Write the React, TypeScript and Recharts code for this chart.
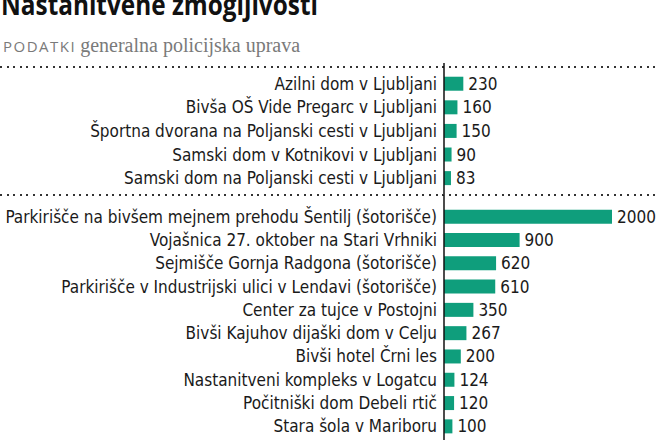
import { BarChart, Bar, XAxis, YAxis, LabelList } from 'recharts';

const ljubljanaNames = [
  'Azilni dom v Ljubljani',
  'Bivša OŠ Vide Pregarc v Ljubljani',
  'Športna dvorana na Poljanski cesti v Ljubljani',
  'Samski dom v Kotnikovi v Ljubljani',
  'Samski dom na Poljanski cesti v Ljubljani',
];
const ljubljanaValues = [230, 160, 150, 90, 83];

const otherNames = [
  'Parkirišče na bivšem mejnem prehodu Šentilj (šotorišče)',
  'Vojašnica 27. oktober na Stari Vrhniki',
  'Sejmišče Gornja Radgona (šotorišče)',
  'Parkirišče v Industrijski ulici v Lendavi (šotorišče)',
  'Center za tujce v Postojni',
  'Bivši Kajuhov dijaški dom v Celju',
  'Bivši hotel Črni les',
  'Nastanitveni kompleks v Logatcu',
  'Počitniški dom Debeli rtič',
  'Stara šola v Mariboru',
];
const otherValues = [2000, 900, 620, 610, 350, 267, 200, 124, 120, 100];

const GREEN = '#0f9e7c';
const FONT = '"DejaVu Sans Condensed", sans-serif';

const toRows = (names: string[], values: number[]) => names.map((name, i) => ({ name, value: values[i] }));

function Dotted({ top }: { top: number }) {
  return (
    <div
      style={{
        position: 'absolute',
        left: 0,
        top,
        width: 660,
        height: 2,
        background: 'repeating-linear-gradient(to right, #333 0 2px, transparent 2px 6.6px)',
      }}
    />
  );
}

function Group({ data, height, padTop, padBottom }: { data: { name: string; value: number }[]; height: number; padTop: number; padBottom: number }) {
  return (
    <BarChart width={660} height={height} data={data} layout="vertical" margin={{ top: 0, right: 48, bottom: 0, left: 0 }} barCategoryGap="20%">
      <XAxis type="number" domain={[0, 2000]} hide />
      <YAxis
        type="category"
        dataKey="name"
        width={444}
        padding={{ top: padTop, bottom: padBottom }}
        tickLine={false}
        tickSize={0}
        tickMargin={7}
        axisLine={{ stroke: '#111', strokeWidth: 1.5 }}
        interval={0}
        tick={{ fontSize: 17, fill: '#1a1a1a', fontFamily: FONT }}
      />
      <Bar dataKey="value" fill={GREEN} isAnimationActive={false}>
        <LabelList dataKey="value" position="right" offset={5} style={{ fontSize: 17, fill: '#1a1a1a', fontFamily: FONT }} />
      </Bar>
    </BarChart>
  );
}

export default function App() {
  return (
    <div style={{ position: 'absolute', left: 0, top: 0, width: 660, height: 440, overflow: 'hidden', background: '#fff' }}>
      <div
        style={{
          position: 'absolute',
          left: 1,
          top: -15,
          fontFamily: '"Open Sans", sans-serif',
          fontWeight: 700,
          fontSize: 28,
          color: '#111',
          whiteSpace: 'nowrap',
          transform: 'scaleX(0.87)',
          transformOrigin: 'left top',
        }}
      >
        Nastanitvene zmogljivosti
      </div>
      <div style={{ position: 'absolute', left: 3, top: 34, whiteSpace: 'nowrap', color: '#7a7a7a' }}>
        <span style={{ fontFamily: '"Open Sans", sans-serif', fontSize: 15, letterSpacing: 1.5 }}>PODATKI</span>{' '}
        <span style={{ fontFamily: '"Liberation Serif", serif', fontSize: 20 }}>generalna policijska uprava</span>
      </div>
      <Dotted top={66} />
      <div style={{ position: 'absolute', left: 0, top: 63 }}>
        <Group data={toRows(ljubljanaNames, ljubljanaValues)} height={132} padTop={9} padBottom={5} />
      </div>
      <Dotted top={194} />
      <div style={{ position: 'absolute', left: 0, top: 195 }}>
        <Group data={toRows(otherNames, otherValues)} height={252} padTop={10} padBottom={9} />
      </div>
    </div>
  );
}
